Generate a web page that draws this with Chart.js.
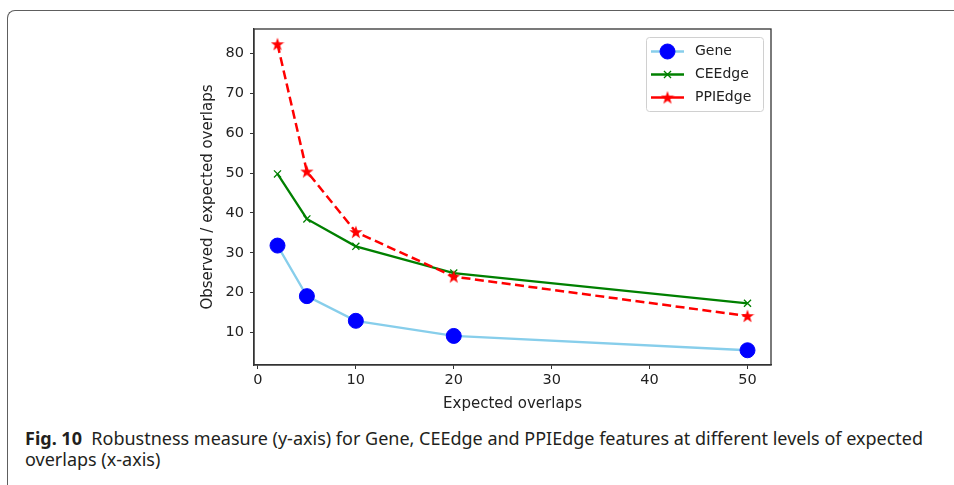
<!DOCTYPE html>
<html>
<head>
<meta charset="utf-8">
<script src="https://cdn.jsdelivr.net/npm/chart.js@4.4.1/dist/chart.umd.min.js"></script>
<style>
  html, body { margin: 0; padding: 0; background: #fff; width: 954px; height: 485px; overflow: hidden; }
  #frame {
    position: absolute; left: 7px; top: 10px; width: 1000px; height: 520px;
    border-top: 1.5px solid #5e5e5e; border-left: 1.5px solid #5e5e5e;
    border-top-left-radius: 8px;
  }
  #wrap { position: absolute; left: 0; top: 0; width: 954px; height: 417px; }
  #caption {
    position: absolute; left: 25px; top: 428px; white-space: nowrap;
    font-family: "Noto Sans", sans-serif; font-size: 17.5px; line-height: 20.5px; color: #231f20;
    transform-origin: 0 0;
  }
  #caption b { font-weight: 700; }
</style>
</head>
<body>
<div id="frame"></div>
<div id="wrap"><canvas id="chart"></canvas></div>
<div id="caption"><span id="line1"><b>Fig. 10</b>&nbsp; Robustness measure (y-axis) for Gene, CEEdge and PPIEdge features at different levels of expected</span><br>overlaps (x-axis)</div>
<script>
// dữ liệu
const overlaps = [2, 5, 10, 20, 50];
const gene = [31.8, 19.1, 12.9, 9.1, 5.5];
const ceedge = [49.8, 38.5, 31.6, 24.9, 17.3];
const ppiedge = [82.4, 50.4, 35.2, 24.0, 14.1];
const xTicks = [0, 10, 20, 30, 40, 50];
const yTicks = [10, 20, 30, 40, 50, 60, 70, 80];

const FONT = 'DejaVu Sans';

// ngôi sao kiểu matplotlib '*'
function makeStar(size, color) {
  const c = document.createElement('canvas');
  c.width = size; c.height = size;
  const g = c.getContext('2d');
  const cx = size / 2, cy = size / 2 + 0.5, R = size / 2, r = R * 0.4;
  g.beginPath();
  for (let i = 0; i < 10; i++) {
    const a = -Math.PI / 2 + i * Math.PI / 5;
    const rr = i % 2 === 0 ? R : r;
    g.lineTo(cx + rr * Math.cos(a), cy + rr * Math.sin(a));
  }
  g.closePath();
  g.fillStyle = color;
  g.fill();
  return c;
}
const star = makeStar(14, '#ff0000');

const pts = arr => arr.map((v, i) => ({ x: overlaps[i], y: v }));

// khung trục + legend
const framePlugin = {
  id: 'framePlugin',
  afterDatasetsDraw(chart) {
    const { ctx, chartArea: a } = chart;
    ctx.save();
    ctx.strokeStyle = '#333';
    ctx.lineWidth = 1.3;
    ctx.strokeRect(a.left, a.top, a.right - a.left, a.bottom - a.top);

    // legend
    const bx = 646, by = 37, bw = 117, bh = 74;
    ctx.fillStyle = 'rgba(255,255,255,0.8)';
    ctx.strokeStyle = '#d0d0d0';
    ctx.lineWidth = 1;
    ctx.beginPath();
    ctx.roundRect(bx + 0.5, by + 0.5, bw, bh, 3);
    ctx.fill();
    ctx.stroke();
    const rows = [51.5, 74.5, 97.5];
    chart.data.datasets.forEach((ds, i) => {
      const y = rows[i];
      ctx.strokeStyle = ds.borderColor;
      ctx.lineWidth = ds.borderWidth;
      ctx.setLineDash([]);
      ctx.beginPath();
      ctx.moveTo(651, y);
      ctx.lineTo(684, y);
      ctx.stroke();
      ctx.fillStyle = ds.pointBackgroundColor;
      ctx.strokeStyle = ds.pointBorderColor;
      ctx.lineWidth = ds.pointBorderWidth;
      Chart.helpers.drawPoint(ctx, {
        pointStyle: ds.pointStyle, radius: ds.pointRadius, rotation: 0,
        borderWidth: ds.pointBorderWidth
      }, 667.5, y);
      ctx.fillStyle = '#222';
      ctx.font = '14px "' + FONT + '"';
      ctx.textBaseline = 'middle';
      ctx.textAlign = 'left';
      ctx.fillText(ds.label, 695, y);
    });
    ctx.restore();
  }
};

new Chart(document.getElementById('chart'), {
  type: 'line',
  data: {
    datasets: [{
      label: 'Gene',
      data: pts(gene),
      borderColor: '#87ceeb',
      borderWidth: 2.3,
      pointStyle: 'circle',
      pointRadius: 7.5,
      pointBackgroundColor: '#0000ff',
      pointBorderColor: '#0000ff',
      pointBorderWidth: 1,
      order: 3
    }, {
      label: 'CEEdge',
      data: pts(ceedge),
      borderColor: '#008000',
      borderWidth: 2.3,
      pointStyle: 'crossRot',
      pointRadius: 5,
      pointBorderColor: '#008000',
      pointBackgroundColor: '#008000',
      pointBorderWidth: 1.3,
      order: 2
    }, {
      label: 'PPIEdge',
      data: pts(ppiedge),
      borderColor: '#ff0000',
      borderWidth: 2.5,
      borderDash: [9, 4.5],
      pointStyle: star,
      pointRadius: 7,
      pointBorderColor: '#ff0000',
      pointBackgroundColor: '#ff0000',
      pointBorderWidth: 1,
      order: 1
    }]
  },
  options: {
    animation: false,
    responsive: true,
    maintainAspectRatio: false,
    tension: 0,
    layout: { padding: { left: 195, top: 29, right: 183, bottom: 0 } },
    plugins: { legend: { display: false }, tooltip: { enabled: false } },
    scales: {
      x: {
        type: 'linear',
        min: -0.4, max: 52.4,
        afterFit: s => { s.height = 52; },
        afterBuildTicks: s => { s.ticks = xTicks.map(v => ({ value: v })); },
        ticks: { color: '#222', font: { family: FONT, size: 14.5 }, padding: 3, maxRotation: 0 },
        grid: { drawOnChartArea: false, drawTicks: true, tickLength: 4, color: '#333' },
        border: { color: '#333', width: 1.3 },
        title: { display: true, text: 'Expected overlaps', color: '#222', font: { family: FONT, size: 15 }, padding: 4 }
      },
      y: {
        min: 1.8, max: 86.2,
        afterFit: s => { s.width = 59; },
        afterBuildTicks: s => { s.ticks = yTicks.map(v => ({ value: v })); },
        ticks: { color: '#222', font: { family: FONT, size: 14.5 }, padding: 6 },
        grid: { drawOnChartArea: false, drawTicks: true, tickLength: 4, color: '#333' },
        border: { color: '#333', width: 1.3 },
        title: { display: true, text: 'Observed / expected overlaps', color: '#222', font: { family: FONT, size: 15 }, padding: 4 }
      }
    }
  },
  plugins: [framePlugin]
});

// co giãn caption cho khớp bề rộng
const cap = document.getElementById('caption');
const w = document.getElementById('line1').getBoundingClientRect().width;
cap.style.transform = 'scaleX(' + (898 / w) + ')';
</script>
</body>
</html>
